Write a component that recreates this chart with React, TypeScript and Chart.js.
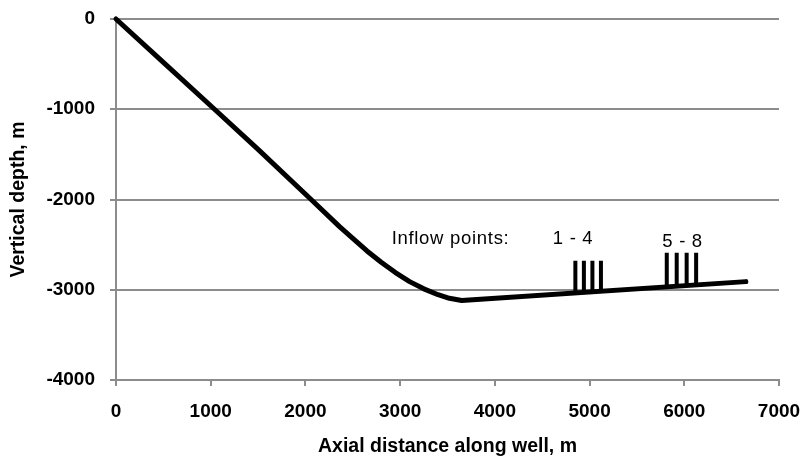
import React, { useEffect, useRef } from 'react';
import { Chart, registerables } from 'chart.js';

Chart.register(...registerables);

// Well trajectory (axial distance, vertical depth)
const wellX = [0, 500, 1040, 1500, 2060, 2360, 2500, 2650, 2800, 2950, 3100, 3250, 3400, 3520, 3650, 6650];
const wellY = [0, -480, -1000, -1445, -2000, -2300, -2430, -2570, -2695, -2810, -2910, -2990, -3055, -3095, -3120, -2910];

// Inflow point markers
const inflowX = [4850, 4940, 5030, 5120, 5815, 5920, 6025, 6125];
const inflowBase = [-3036, -3030, -3023, -3017, -2968, -2961, -2954, -2947];
const inflowTop = [-2678, -2678, -2678, -2678, -2590, -2590, -2590, -2590];

// Axis ticks and titles
const xTicks = [0, 1000, 2000, 3000, 4000, 5000, 6000, 7000];
const yTicks = [0, -1000, -2000, -3000, -4000];
const xTitle = 'Axial distance along well, m';
const yTitle = 'Vertical depth, m';

// Text notes
const noteText = ['Inflow points:', '1 - 4', '5 - 8'];
const noteX = [3532, 4826, 5982];
const noteY = [-2432, -2432, -2465];

const GRID = '#8c8c8c';
const FONT = '"Liberation Sans", Arial, Helvetica, sans-serif';

const notesPlugin = {
  id: 'notes',
  afterDatasetsDraw(chart: any) {
    const { ctx, scales } = chart;
    const xs = scales.x;
    const ys = scales.y;
    ctx.save();
    ctx.font = `18.5px ${FONT}`;
    ctx.fillStyle = '#000';
    ctx.textAlign = 'center';
    ctx.textBaseline = 'middle';
    (ctx as any).letterSpacing = '0.7px';
    noteText.forEach((t, i) => {
      ctx.fillText(t, xs.getPixelForValue(noteX[i]), ys.getPixelForValue(noteY[i]));
    });
    ctx.restore();
  },
};

export default function App() {
  const ref = useRef<HTMLCanvasElement | null>(null);

  useEffect(() => {
    if (!ref.current) return;
    Chart.defaults.font.family = FONT;
    Chart.defaults.color = '#000';

    const wellData = wellX.map((x, i) => ({ x, y: wellY[i] }));
    const inflowData: any[] = [];
    inflowX.forEach((x, i) => {
      inflowData.push({ x, y: inflowBase[i] });
      inflowData.push({ x, y: inflowTop[i] });
      inflowData.push({ x, y: null });
    });

    const chart = new Chart(ref.current, {
      type: 'line',
      data: {
        datasets: [
          {
            label: 'Well',
            data: wellData,
            borderColor: '#000',
            borderWidth: 5,
            pointRadius: 0,
            tension: 0,
            borderCapStyle: 'round',
            borderJoinStyle: 'round',
            fill: false,
            clip: false,
          } as any,
          {
            label: 'Inflow',
            data: inflowData,
            borderColor: '#000',
            borderWidth: 4,
            pointRadius: 0,
            spanGaps: false,
            fill: false,
            clip: false,
          } as any,
        ],
      },
      options: {
        animation: false,
        responsive: false,
        devicePixelRatio: 1,
        layout: { padding: { top: 19, right: 22, left: 0, bottom: 0 } },
        plugins: {
          legend: { display: false },
          tooltip: { enabled: false },
        },
        scales: {
          x: {
            type: 'linear',
            min: 0,
            max: 7000,
            afterBuildTicks: (s: any) => {
              s.ticks = xTicks.map((v) => ({ value: v }));
            },
            afterFit: (s: any) => {
              s.height = 85;
              s.paddingLeft = 0;
              s.paddingRight = 0;
            },
            ticks: {
              callback: (v: any) => String(v),
              font: { size: 19, weight: 'bold' },
              padding: 14,
              color: '#000',
              maxRotation: 0,
              autoSkip: false,
            },
            grid: {
              drawOnChartArea: false,
              color: GRID,
              lineWidth: 2,
              tickLength: 6,
            },
            border: { display: true, color: GRID, width: 2 },
            title: {
              display: true,
              text: xTitle,
              font: { size: 19.5, weight: 'bold' },
              color: '#000',
              padding: { top: 0, bottom: 7 },
            },
          },
          y: {
            type: 'linear',
            min: -4000,
            max: 0,
            afterBuildTicks: (s: any) => {
              s.ticks = yTicks.map((v) => ({ value: v }));
            },
            afterFit: (s: any) => {
              s.width = 116;
              s.paddingTop = 0;
              s.paddingBottom = 0;
            },
            ticks: {
              callback: (v: any) => String(v),
              font: { size: 19, weight: 'bold' },
              padding: 15,
              color: '#000',
            },
            grid: {
              drawOnChartArea: true,
              color: GRID,
              lineWidth: 2,
              tickLength: 6,
            },
            border: { display: true, color: GRID, width: 2 },
            title: {
              display: true,
              text: yTitle,
              font: { size: 19.5, weight: 'bold' },
              color: '#000',
              padding: { top: 7, bottom: 0 },
            },
          },
        },
      } as any,
      plugins: [notesPlugin],
    });

    return () => chart.destroy();
  }, []);

  return (
    <div style={{ position: 'absolute', left: 0, top: 0, width: 801, height: 465, background: '#fff' }}>
      <canvas ref={ref} width={801} height={465} style={{ display: 'block' }} />
    </div>
  );
}
